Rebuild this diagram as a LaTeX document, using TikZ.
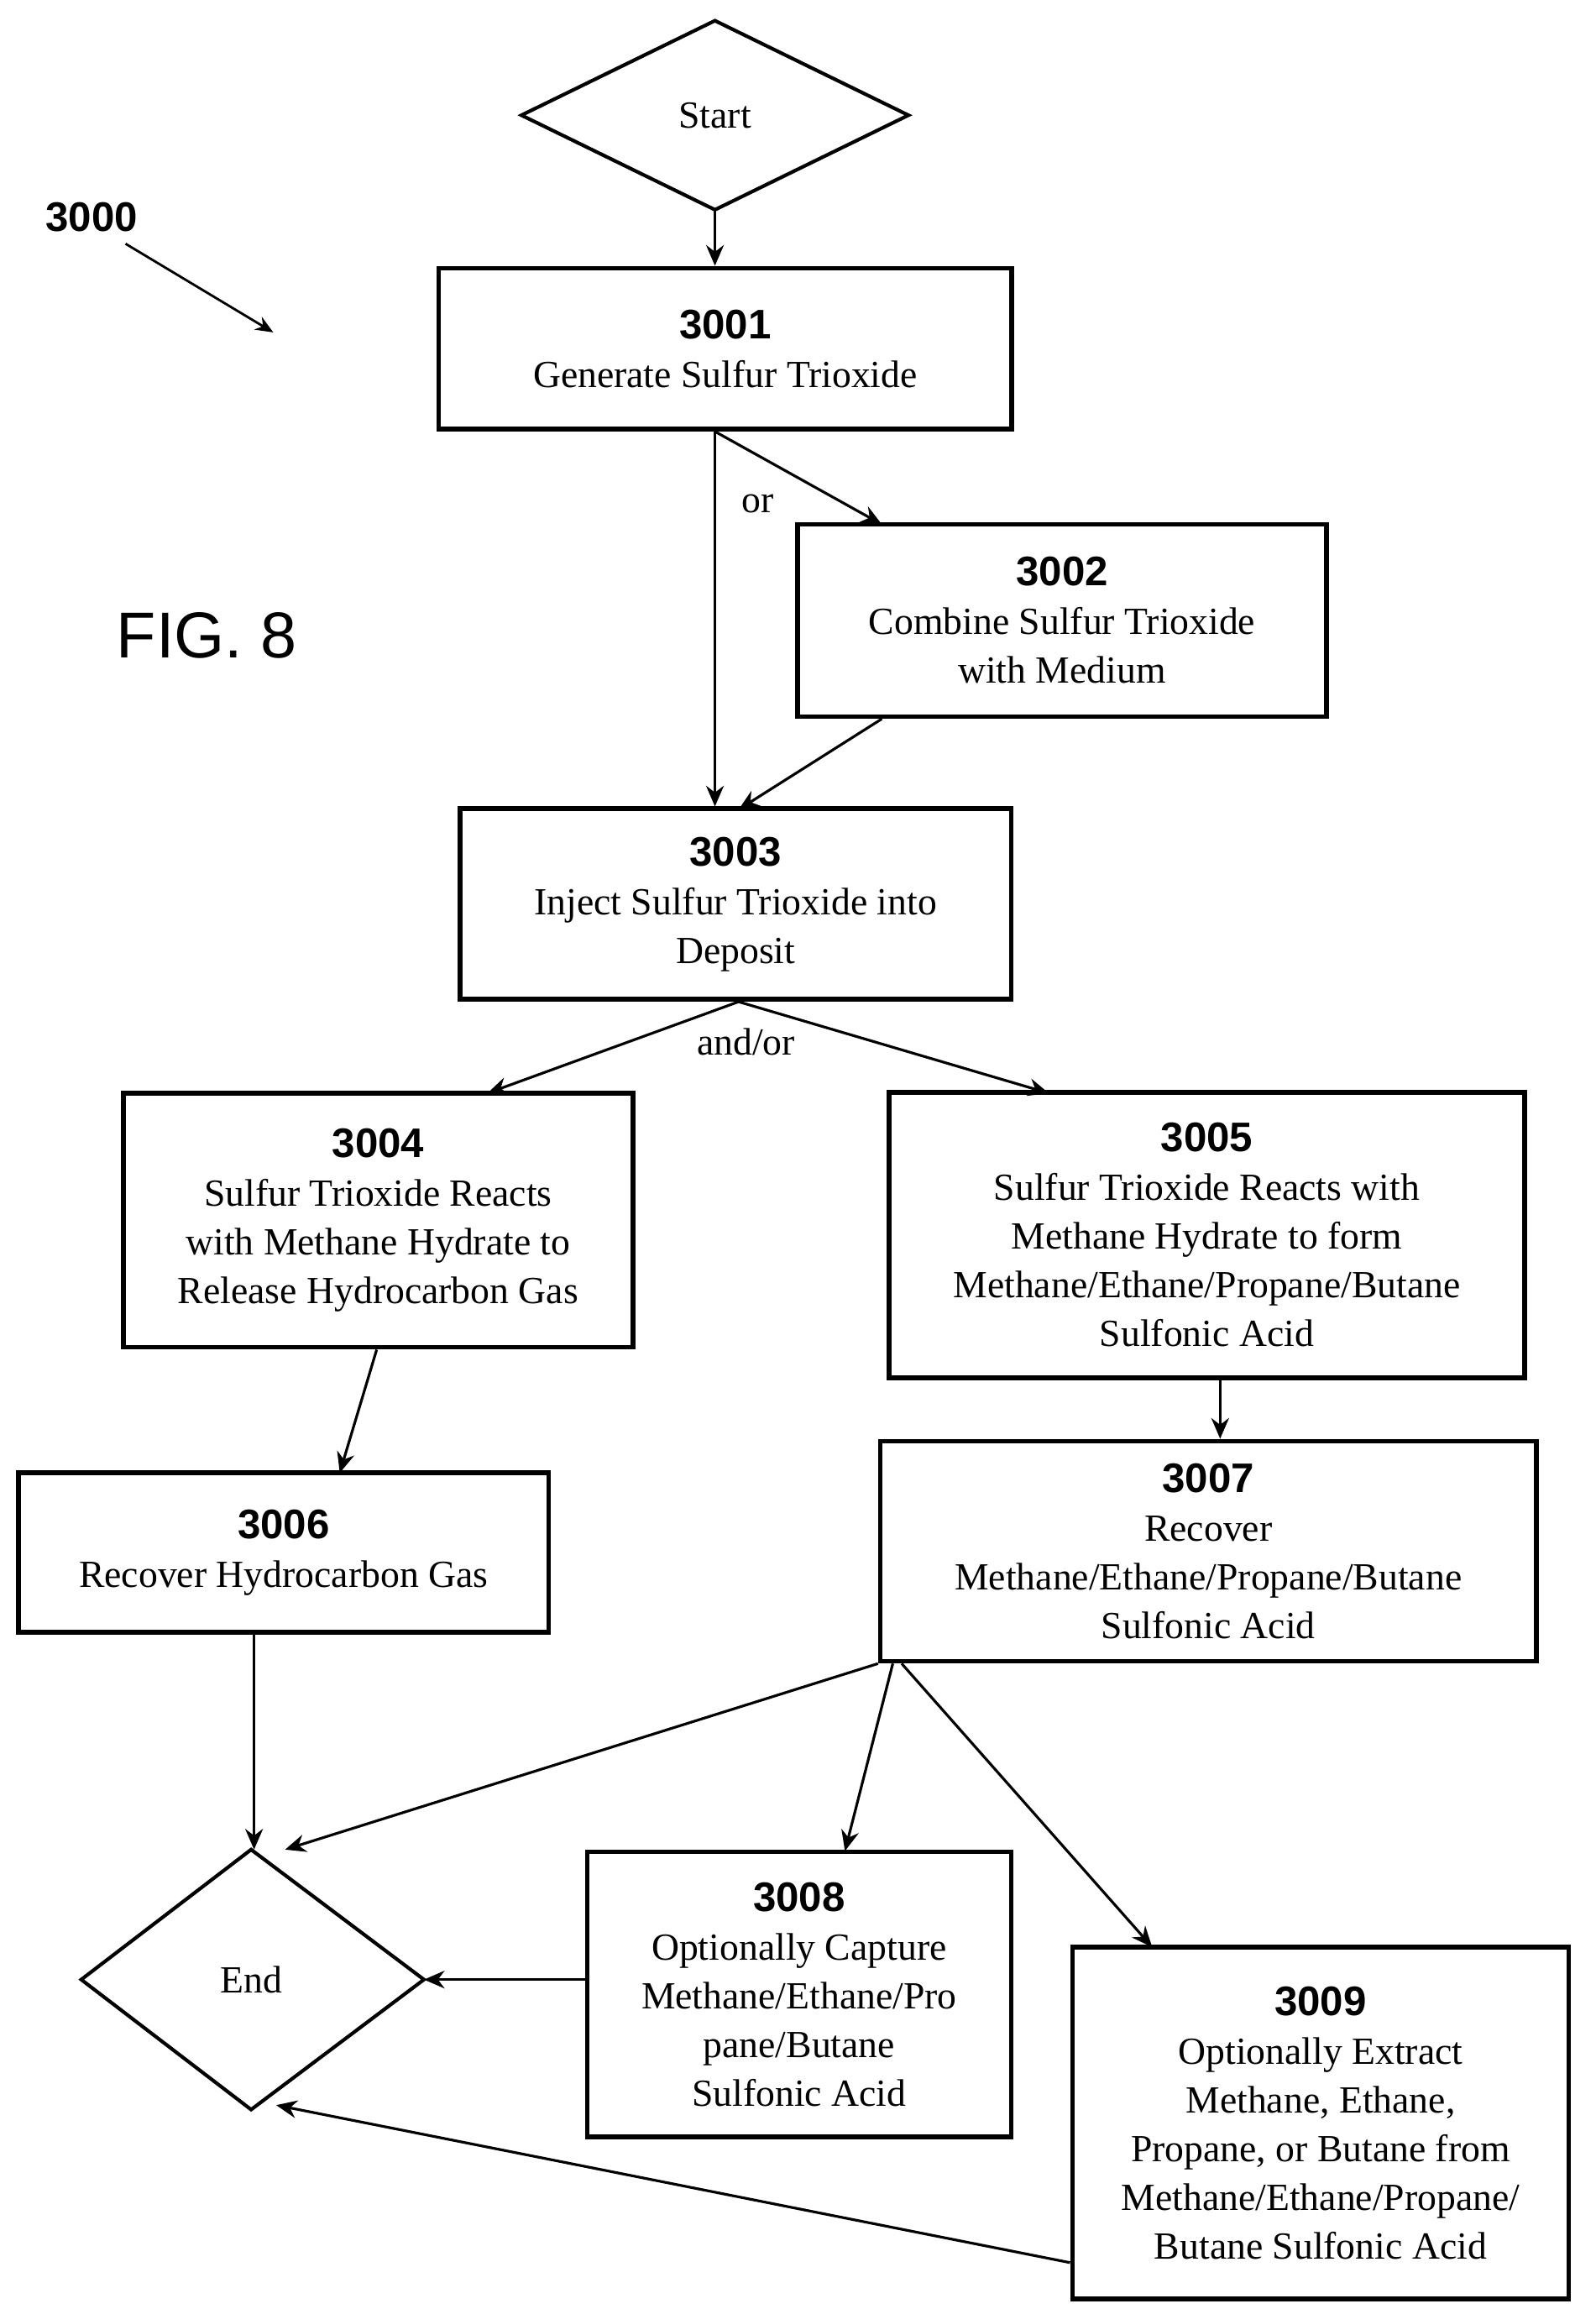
\documentclass[tikz,border=0pt]{standalone}
\usepackage{fontspec}
\setmainfont{Liberation Serif}
\newfontfamily\numfont{Liberation Sans}
\usetikzlibrary{shapes.geometric,calc,arrows.meta}

\tikzset{
  procbox/.style={draw, line width=1.6pt, rectangle, inner sep=0pt,
               align=center, font=\fontsize{13}{16.5}\selectfont},
  termline/.style={line width=1.2pt},
  flow/.style={-{Stealth[length=7pt,width=6pt]}, line width=0.9pt},
  num/.style={font=\numfont\bfseries\fontsize{14}{16}\selectfont}
}
\newcommand{\stepnum}[1]{{\numfont\bfseries\fontsize{14}{17}\selectfont #1}}

\begin{document}
\begin{tikzpicture}[x=0.01759cm, y=-0.01759cm]
\useasboundingbox (0,0) rectangle (1080,1563);

% terminals
\draw[termline] (353,78) -- (484,14) -- (615,78) -- (484,142) -- cycle;
\node[font=\fontsize{13}{16}\selectfont] (start) at (484,78) {Start};
\coordinate (startbot) at (484,142);

\draw[termline] (55,1340) -- (170,1252) -- (287,1340) -- (170,1428) -- cycle;
\node[font=\fontsize{13}{16}\selectfont] (endlbl) at (170,1340) {End};
\coordinate (endtop) at (172,1252);
\coordinate (endright) at (287,1340);
\coordinate (endlow) at (187,1425);

% labels
\node[num] (figno) at (62,147) {3000};
\coordinate (figtip) at (185,225);
\draw[-{Stealth[length=6pt,width=5pt]}, line width=0.8pt] (85,165) -- (figtip);
\node[font=\numfont\fontsize{22}{24}\selectfont] (fig) at (140,430) {FIG. 8};

% steps
\node[procbox, minimum width=388*0.01759cm, minimum height=109*0.01759cm] (n3001) at (491,236)
  {\stepnum{3001}\\Generate Sulfur Trioxide};
\node[procbox, minimum width=358*0.01759cm, minimum height=130*0.01759cm] (n3002) at (719,420)
  {\stepnum{3002}\\Combine Sulfur Trioxide\\with Medium};
\node[procbox, minimum width=373*0.01759cm, minimum height=129*0.01759cm] (n3003) at (498,612)
  {\stepnum{3003}\\Inject Sulfur Trioxide into\\Deposit};
\node[procbox, minimum width=345*0.01759cm, minimum height=172*0.01759cm] (n3004) at (256,826)
  {\stepnum{3004}\\Sulfur Trioxide Reacts\\with Methane Hydrate to\\Release Hydrocarbon Gas};
\node[procbox, minimum width=430*0.01759cm, minimum height=193*0.01759cm] (n3005) at (817,836)
  {\stepnum{3005}\\Sulfur Trioxide Reacts with\\Methane Hydrate to form\\Methane/Ethane/Propane/Butane\\Sulfonic Acid};
\node[procbox, minimum width=359*0.01759cm, minimum height=108*0.01759cm] (n3006) at (192,1051)
  {\stepnum{3006}\\Recover Hydrocarbon Gas};
\node[procbox, minimum width=444*0.01759cm, minimum height=149*0.01759cm] (n3007) at (818,1050)
  {\stepnum{3007}\\Recover\\Methane/Ethane/Propane/Butane\\Sulfonic Acid};
\node[procbox, minimum width=287*0.01759cm, minimum height=193*0.01759cm] (n3008) at (541,1350)
  {\stepnum{3008}\\Optionally Capture\\Methane/Ethane/Pro\\pane/Butane\\Sulfonic Acid};
\node[procbox, minimum width=336*0.01759cm, minimum height=238*0.01759cm] (n3009) at (894,1437)
  {\stepnum{3009}\\Optionally Extract\\Methane, Ethane,\\Propane, or Butane from\\Methane/Ethane/Propane/\\Butane Sulfonic Acid};

% connectors
\draw[flow] (startbot) -- (n3001.north -| startbot);
\draw[flow] (n3001.south -| startbot) -- (n3003.north -| startbot);
\draw[flow] (n3001.south -| startbot) -- (597,355);
\node[font=\fontsize{13}{16}\selectfont] (orlbl) at (513,341) {or};
\draw[flow] ($(n3002.south)+(-122,0)$) -- (500,548);
\draw[flow] ($(n3003.south)+(2,0)$) -- (330,740);
\draw[flow] ($(n3003.south)+(2,0)$) -- (710,740);
\node[font=\fontsize{13}{16}\selectfont] (andor) at (505,705) {and/or};
\draw[flow] ($(n3004.south)+(-1,0)$) -- (230,997);
\draw[flow] ($(n3005.south)+(9,0)$) -- ($(n3007.north)+(8,0)$);
\draw[flow] ($(n3006.south)+(-20,0)$) -- (endtop);
\draw[flow] (n3007.south west) -- (193,1252);
\draw[flow] ($(n3007.south west)+(10,0)$) -- (572,1253);
\draw[flow] ($(n3007.south west)+(16,0)$) -- (780,1318);
\draw[flow] (n3008.west |- endright) -- (endright);
\draw[flow] ($(n3009.south west)+(0,-26)$) -- (endlow);
\end{tikzpicture}
\end{document}
